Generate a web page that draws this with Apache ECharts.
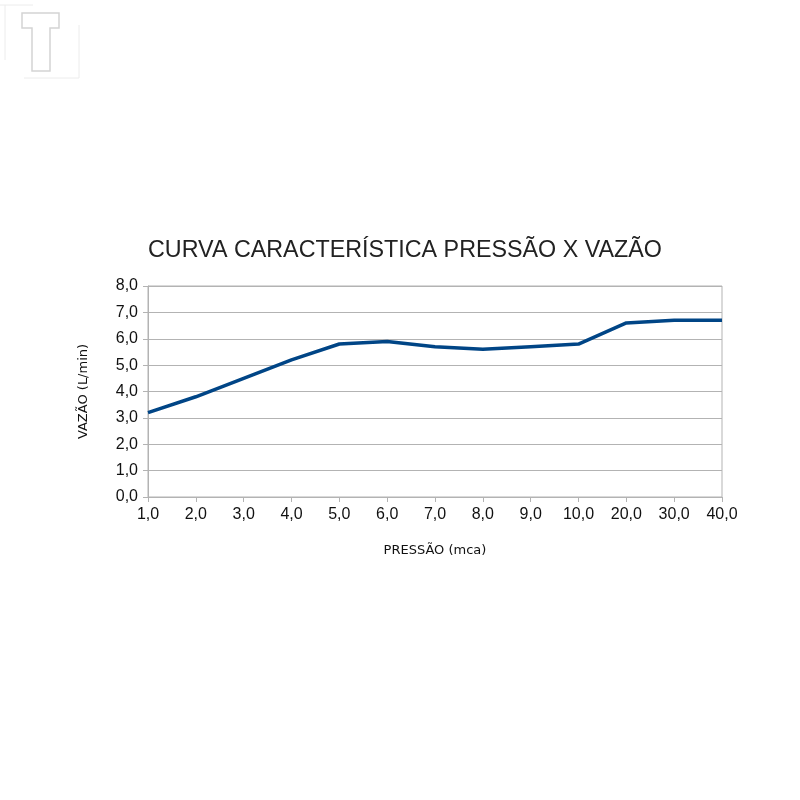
<!DOCTYPE html>
<html><head><meta charset="utf-8">
<script src="https://cdn.jsdelivr.net/npm/echarts@6/dist/echarts.min.js"></script>
<style>html,body{margin:0;padding:0;background:#fff}#c{width:800px;height:800px}</style>
</head><body><div id="c"></div>
<script>
const categories = ['1,0','2,0','3,0','4,0','5,0','6,0','7,0','8,0','9,0','10,0','20,0','30,0','40,0'];
const vazao = [3.2, 3.8, 4.5, 5.2, 5.8, 5.9, 5.7, 5.6, 5.7, 5.8, 6.6, 6.7, 6.7];
const yTicks = [0,1,2,3,4,5,6,7,8];

const chart = echarts.init(document.getElementById('c'), null, {renderer:'canvas'});
chart.setOption({
  animation:false,
  backgroundColor:'#fff',
  title:{text:'CURVA CARACTERÍSTICA PRESSÃO X VAZÃO', left:400, top:234, textAlign:'center',
    textStyle:{fontFamily:'Liberation Sans', fontSize:23.3, fontWeight:'normal', color:'#222'}},
  grid:{left:148, right:78, top:286, bottom:303, show:true, borderColor:'#b3b3b3', borderWidth:1, backgroundColor:'transparent'},
  xAxis:{type:'category', data:categories, boundaryGap:false,
    name:'PRESSÃO (mca)', nameLocation:'middle', nameGap:47,
    nameTextStyle:{fontFamily:'DejaVu Sans', fontSize:13, color:'#111'},
    axisLine:{lineStyle:{color:'#b3b3b3'}},
    axisTick:{show:true, alignWithLabel:true, length:5, lineStyle:{color:'#b3b3b3'}},
    axisLabel:{fontFamily:'Liberation Sans', fontSize:16, color:'#111', margin:10},
    splitLine:{show:false}},
  yAxis:{type:'value', min:0, max:8, interval:1,
    name:'VAZÃO (L/min)', nameLocation:'middle', nameGap:58, nameRotate:90,
    nameTextStyle:{fontFamily:'DejaVu Sans', fontSize:13, color:'#111'},
    axisLine:{show:true, lineStyle:{color:'#b3b3b3'}},
    axisTick:{show:true, length:5, lineStyle:{color:'#b3b3b3'}},
    axisLabel:{fontFamily:'Liberation Sans', fontSize:16, color:'#111', margin:10,
      formatter:v=>v.toFixed(1).replace('.',',')},
    splitLine:{lineStyle:{color:'#b3b3b3'}}},
  series:[{type:'line', data:vazao, symbol:'none', lineStyle:{color:'#004586', width:3.5}}],
  graphic:[
    {type:'polygon', shape:{points:[[22,13],[59,13],[59,28],[50,28],[50,71],[32,71],[32,28],[22,28]]},
      style:{fill:'#fff', stroke:'#d4d4d4', lineWidth:1.5}},
    {type:'polyline', shape:{points:[[0,5],[33,5]]}, style:{stroke:'#ececec', lineWidth:1}},
    {type:'polyline', shape:{points:[[5,5],[5,60]]}, style:{stroke:'#ececec', lineWidth:1}},
    {type:'polyline', shape:{points:[[24,78],[79,78],[79,25]]}, style:{stroke:'#ececec', lineWidth:1}}
  ]
});
</script></body></html>
